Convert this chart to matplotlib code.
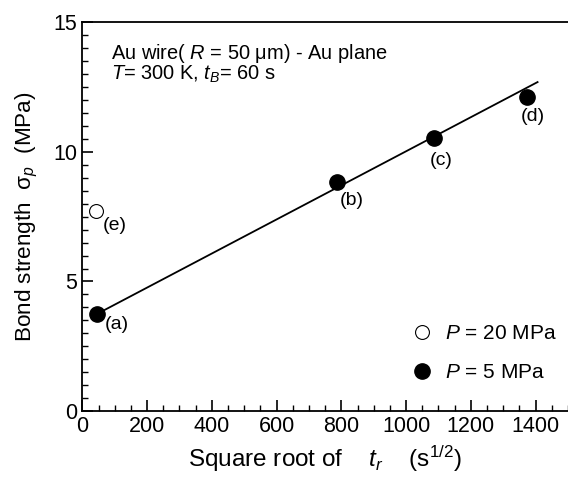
import matplotlib
matplotlib.use("Agg")
from matplotlib import pyplot as plt
from matplotlib.ticker import MultipleLocator

# measured points, P = 5 MPa
x_5mpa = [44, 785, 1085, 1372]
y_5mpa = [3.74, 8.83, 10.53, 12.11]
lab_5mpa = ["(a)", "(b)", "(c)", "(d)"]

# P = 20 MPa
x_20mpa = [42]
y_20mpa = [7.71]
lab_20mpa = ["(e)"]

# fitted line end points
fit_x = [44, 1406]
fit_y = [3.74, 12.69]

plt.rcParams['font.family'] = ['Liberation Sans', 'DejaVu Sans']
plt.rcParams['mathtext.fontset'] = 'custom'
plt.rcParams['mathtext.rm'] = 'Liberation Sans'
plt.rcParams['mathtext.it'] = 'Liberation Sans:italic'

fig = plt.figure(figsize=(5.68, 4.82), dpi=100)
ax = fig.add_axes([0.145, 0.147, 0.855, 0.807])

ax.plot(fit_x, fit_y, color='black', lw=1.3, zorder=2)
h5, = ax.plot(x_5mpa, y_5mpa, 'o', ms=11, mfc='black', mec='black', ls='none', zorder=3)
h20, = ax.plot(x_20mpa, y_20mpa, 'o', ms=10, mfc='white', mec='black', mew=0.8, ls='none', zorder=3)

# label offsets (points) for (a)..(d)
offs = [(6, -1), (2, -7), (-3, -10), (-4, -8)]
for (x, y, s), o in zip(zip(x_5mpa, y_5mpa, lab_5mpa), offs):
    ax.annotate(s, (x, y), xytext=o, textcoords='offset points',
                ha='left', va='top', fontsize=14)
for x, y, s in zip(x_20mpa, y_20mpa, lab_20mpa):
    ax.annotate(s, (x, y), xytext=(5, -4), textcoords='offset points',
                ha='left', va='top', fontsize=14)

ax.text(0.06, 0.905, "Au wire( $R$ = 50 \u03bcm) - Au plane", transform=ax.transAxes,
        fontsize=14.4, va='baseline')
ax.text(0.06, 0.853, "$T$= 300 K, $t_B$= 60 s", transform=ax.transAxes,
        fontsize=14.4, va='baseline')

ax.legend([h20, h5], ["$P$ = 20 MPa", "$P$ = 5 MPa"], loc='lower left',
          bbox_to_anchor=(0.639, 0.027), frameon=False, fontsize=15,
          handlelength=1.0, handletextpad=0.6, labelspacing=0.95)

ax.set_xlim(0, 1500)
ax.set_ylim(0, 15)
ax.xaxis.set_major_locator(MultipleLocator(200))
ax.xaxis.set_minor_locator(MultipleLocator(50))
ax.yaxis.set_major_locator(MultipleLocator(5))
ax.yaxis.set_minor_locator(MultipleLocator(0.5))
ax.tick_params(which='both', direction='in', top=False, right=False, labelsize=15.5)
ax.tick_params(which='major', length=8, width=1.2)
ax.tick_params(which='minor', length=4.5, width=1)
ax.spines['right'].set_visible(False)
for s in ['left', 'bottom', 'top']:
    ax.spines[s].set_linewidth(1.3)

ax.set_xlabel("Square root of    $t_r$    (s$^{1/2}$)", fontsize=17.5, labelpad=5)
ax.set_ylabel("Bond strength  $\\mathrm{\\sigma}_p$  (MPa)", fontsize=16.2, labelpad=10)

fig.savefig("out.png", dpi=100)
